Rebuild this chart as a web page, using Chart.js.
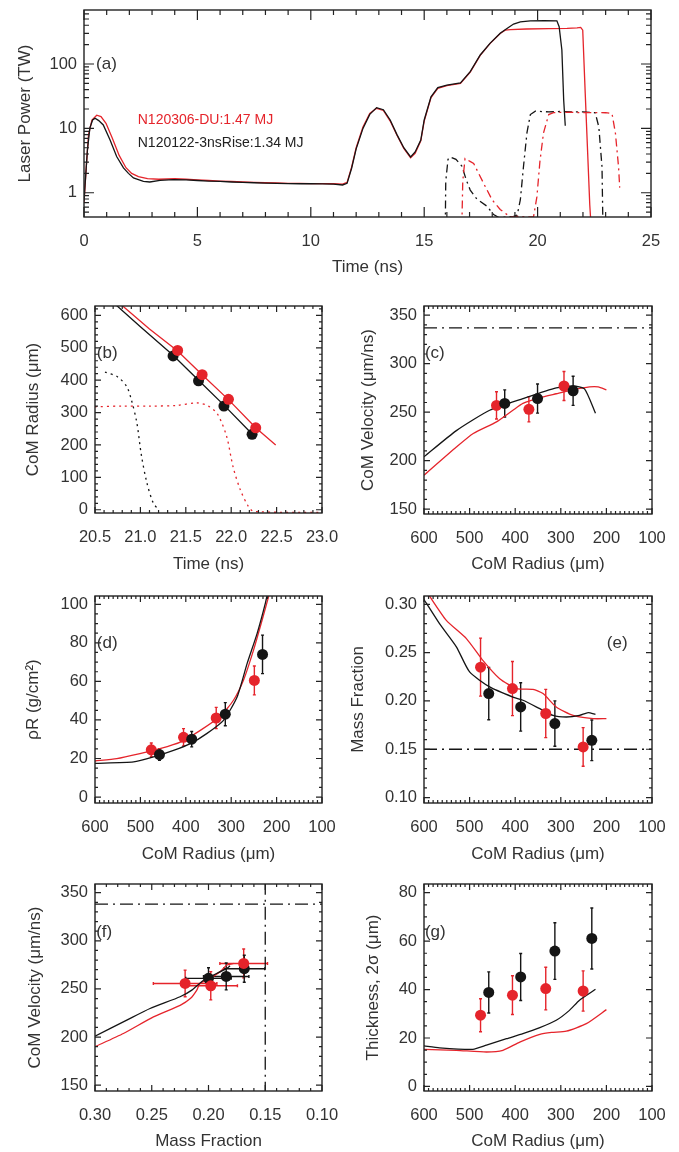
<!DOCTYPE html>
<html>
<head>
<meta charset="utf-8">
<script src="https://cdn.jsdelivr.net/npm/chart.js@4.4.0/dist/chart.umd.min.js"></script>
<style>
  html, body { margin: 0; padding: 0; background: #fff; }
  #fig { position: relative; width: 679px; height: 1152px; overflow: hidden; background: #fff; }
  #fig canvas { position: absolute; }
</style>
</head>
<body>
<div id="fig"></div>
<script>
// ---- (a) laser power vs time ----
const aTimeBlack = [0, 0.15, 0.26, 0.38, 0.49, 0.65, 0.85, 1.15, 1.44, 1.74, 1.96, 2.18, 2.62, 2.9, 3.35, 3.94, 4.5, 5.0, 5.5, 6.0, 6.5, 7.0, 7.5, 8.0, 8.5, 9.0, 9.5, 10.0, 10.5, 11.0, 11.4, 11.6, 11.8, 12.0, 12.3, 12.6, 12.9, 13.2, 13.5, 13.8, 14.1, 14.4, 14.6, 14.85, 15.0, 15.3, 15.6, 16.0, 16.6, 17.03, 17.47, 17.9, 18.35, 18.65, 18.94, 19.24, 19.68, 20.3, 20.85, 20.95, 21.07, 21.15, 21.22];
const aPowerBlack = [0.75, 4.6, 10.2, 13.5, 14.4, 13.2, 11.3, 6.6, 3.65, 2.43, 2.0, 1.7, 1.5, 1.47, 1.56, 1.6, 1.58, 1.55, 1.52, 1.5, 1.47, 1.45, 1.43, 1.41, 1.4, 1.39, 1.38, 1.38, 1.37, 1.36, 1.32, 1.4, 2.4, 4.8, 10, 16.5, 21, 19.5, 13.5, 8, 5, 3.6, 4.3, 6.6, 13.5, 31, 43, 47, 51, 76, 138, 209, 300, 357, 418, 452, 468, 470, 468, 380, 165, 27.6, 11];
const aTimeRed = [0, 0.1, 0.2, 0.35, 0.56, 0.75, 0.97, 1.25, 1.55, 1.85, 2.1, 2.4, 2.8, 3.3, 4.0, 4.5, 5.0, 5.5, 6.0, 6.5, 7.0, 7.5, 8.0, 8.5, 9.0, 9.5, 10.0, 10.5, 11.0, 11.4, 11.6, 11.8, 12.0, 12.3, 12.6, 12.9, 13.2, 13.5, 13.8, 14.1, 14.4, 14.6, 14.85, 15.0, 15.3, 15.6, 16.0, 16.6, 17.03, 17.47, 17.9, 18.35, 18.57, 18.8, 19.5, 20.5, 21.3, 21.74, 21.9, 21.99, 22.1, 22.2, 22.3, 22.36];
const aPowerRed = [0.7, 2.5, 8, 13.5, 16.0, 15.2, 12, 7, 3.8, 2.45, 2.0, 1.78, 1.66, 1.62, 1.65, 1.62, 1.58, 1.55, 1.52, 1.5, 1.47, 1.45, 1.43, 1.42, 1.4, 1.4, 1.39, 1.39, 1.38, 1.36, 1.45, 2.5, 5, 10.5, 17, 20.5, 19, 13, 7.8, 4.9, 3.5, 4.1, 6.4, 13, 30, 42, 46, 50, 75, 136, 207, 298, 335, 343, 350, 355, 358, 365, 370, 335, 35, 4.8, 0.65, 0.3];
const aTimeBlackDD = [15.93, 15.95, 16.05, 16.15, 16.4, 16.66, 16.85, 17.03, 17.32, 17.76, 18.06, 18.3, 18.6, 18.94, 19.1, 19.24, 19.38, 19.53, 19.68, 19.9, 20.5, 21.0, 21.5, 22.0, 22.54, 22.7, 22.84, 22.88];
const aPowerBlackDD = [0.3, 1.5, 3.3, 3.6, 3.3, 2.6, 1.6, 1.1, 0.8, 0.62, 0.46, 0.41, 0.42, 0.43, 0.45, 0.78, 2.6, 8.5, 16.4, 18.5, 18, 18.3, 18, 18, 17.5, 10.5, 2.5, 0.3];
const aTimeRedDD = [16.66, 16.7, 16.8, 17.0, 17.18, 17.4, 17.62, 17.99, 18.35, 18.8, 19.2, 19.5, 19.82, 19.97, 20.1, 20.26, 20.49, 20.7, 21.5, 22.0, 22.5, 23.0, 23.28, 23.43, 23.57, 23.62];
const aPowerRedDD = [0.3, 1.5, 3.4, 3.1, 2.86, 2.0, 1.4, 0.78, 0.55, 0.42, 0.43, 0.42, 0.42, 0.87, 3, 8.5, 16.4, 17.6, 17.8, 17.5, 17.6, 17.5, 17, 8.5, 2.5, 1.2];
const aLegend = ['N120306-DU:1.47 MJ', 'N120122-3nsRise:1.34 MJ'];

// ---- (b) CoM radius vs time ----
const bTimeBlack = [20.72, 21.0, 21.36, 21.64, 21.92, 22.23];
const bRadiusBlack = [635, 565, 477, 400, 323, 234];
const bTimeRed = [20.78, 21.1, 21.41, 21.68, 21.97, 22.27, 22.49];
const bRadiusRed = [635, 558, 490, 417, 340, 253, 200];
const bDotTimeBlack = [21.36, 21.64, 21.92, 22.23];
const bDotRadiusBlack = [475, 398, 320, 233];
const bDotTimeRed = [21.41, 21.68, 21.97, 22.27];
const bDotRadiusRed = [492, 417, 341, 253];
const bSigTimeBlack = [20.61, 20.75, 20.85, 20.9, 20.96, 21.01, 21.07, 21.14, 21.2];
const bSigBlack = [425, 410, 380, 340, 270, 170, 85, 22, 0];
const bSigTimeRed = [20.5, 20.8, 21.1, 21.4, 21.62, 21.75, 21.85, 21.95, 22.02, 22.1, 22.19, 22.25, 23.0];
const bSigRed = [318, 320, 320, 322, 330, 320, 295, 226, 133, 62, 10, -5, -8];

// ---- (c) CoM velocity vs radius ----
const cRadiusBlack = [600, 529, 456, 383, 310, 273, 248, 224];
const cVelBlack = [204, 231, 252, 264, 275, 277, 274, 249];
const cRadiusRed = [600, 529, 492, 441, 405, 383, 346, 310, 273, 237, 218, 200];
const cVelRed = [185, 214, 228, 240, 252, 259, 265, 269, 273, 276, 276, 273];
const cDotRadiusBlack = [423, 351, 273];
const cDotVelBlack = [259, 264, 272];
const cErrBlack = [14, 15, 15];
const cDotRadiusRed = [441, 370, 293];
const cDotVelRed = [257, 253, 277];
const cErrRed = [14, 13, 15];
const cVelLimit = 337;

// ---- (d) rhoR vs radius ----
const dRadiusBlack = [600, 515, 471, 427, 390, 354, 317, 287, 265, 243, 225, 218];
const dRhoRBlack = [17.5, 18.2, 20.8, 24.2, 27.7, 32.9, 39.8, 51.9, 69.2, 84.8, 100.3, 108];
const dRadiusRed = [600, 552, 501, 457, 412, 368, 324, 295, 273, 251, 232, 213];
const dRhoRRed = [18.7, 19.9, 22.5, 25.1, 28.5, 34.6, 41.9, 50.2, 60.6, 76.1, 91.7, 108];
const dDotRadiusBlack = [458, 387, 313, 231];
const dDotRhoRBlack = [22, 30, 43, 74];
const dErrBlack = [3, 4, 6, 10];
const dDotRadiusRed = [476, 405, 333, 249];
const dDotRhoRRed = [24.5, 31, 41, 60.5];
const dErrRed = [3.5, 4.5, 5.5, 7.5];

// ---- (e) mass fraction vs radius ----
const eRadiusBlack = [600, 566, 529, 500, 456, 405, 383, 346, 317, 288, 259, 240, 224];
const eMassBlack = [0.305, 0.280, 0.256, 0.230, 0.2145, 0.204, 0.2007, 0.192, 0.185, 0.1834, 0.185, 0.188, 0.186];
const eRadiusRed = [590, 551, 507, 471, 434, 397, 361, 339, 310, 273, 229, 200];
const eMassRed = [0.31, 0.2834, 0.2645, 0.242, 0.223, 0.2128, 0.212, 0.2076, 0.1938, 0.185, 0.1817, 0.1817];
const eDotRadiusBlack = [458, 388, 313, 232];
const eDotMassBlack = [0.2076, 0.1938, 0.1766, 0.1593];
const eErrBlack = [0.027, 0.025, 0.0235, 0.021];
const eDotRadiusRed = [476, 406, 333, 251];
const eDotMassRed = [0.235, 0.2128, 0.187, 0.1524];
const eErrRed = [0.03, 0.028, 0.025, 0.02];
const eMassLimit = 0.15;

// ---- (f) CoM velocity vs mass fraction ----
const fMassBlack = [0.30, 0.272, 0.2515, 0.225, 0.2147, 0.2044, 0.1956, 0.1838, 0.181];
const fVelBlack = [201, 217.6, 229.7, 241.9, 248.8, 259, 264.4, 271.3, 274];
const fMassRed = [0.30, 0.275, 0.2485, 0.225, 0.216, 0.2103, 0.2074, 0.2015, 0.1897, 0.1838, 0.178];
const fVelRed = [190, 203.7, 221, 233, 240, 248.8, 256, 259, 268, 274.8, 276.5];
const fDotMassBlack = [0.2, 0.1844, 0.1685];
const fDotVelBlack = [261, 263, 271];
const fMassErrBlack = [0.02, 0.02, 0.018];
const fVelErrBlack = [11, 14, 14];
const fDotMassRed = [0.2206, 0.198, 0.169];
const fDotVelRed = [255.7, 253.3, 276.5];
const fMassErrRed = [0.028, 0.0235, 0.021];
const fVelErrRed = [13.8, 14.7, 15];
const fVelLimit = 338;
const fMassLimit = 0.15;

// ---- (g) shell thickness vs radius ----
const gRadiusBlack = [600, 566, 493, 463, 419, 383, 346, 310, 281, 259, 224];
const gThickBlack = [16.7, 15.9, 15.3, 17, 19.7, 21.8, 24.3, 27.3, 31.4, 35.6, 40.1];
const gRadiusRed = [600, 529, 463, 427, 390, 346, 320, 288, 244, 200];
const gThickRed = [15.3, 14.9, 14.2, 14.9, 18.3, 21.5, 22.3, 22.8, 25.9, 31.7];
const gDotRadiusBlack = [458, 388, 313, 232];
const gDotThickBlack = [38.8, 45.2, 55.9, 61.1];
const gErrBlack = [8.5, 9.7, 11.7, 12.6];
const gDotRadiusRed = [476, 406, 333, 251];
const gDotThickRed = [29.4, 37.7, 40.4, 39.4];
const gErrRed = [6.8, 8, 8.8, 8.3];

// ---- tick labels ----
const radiusTicks = [600, 500, 400, 300, 200, 100];
const velTicks = [150, 200, 250, 300, 350];

const RED = '#e5242b';
const BLACK = '#151515';
const TXT = '#333333';
const FONT = '"Liberation Sans", Arial, Helvetica, sans-serif';
const TICK_SIZE = 16.5;
const TITLE_SIZE = 17;

function pts(xs, ys) { return xs.map((x, i) => ({ x: x, y: ys[i] })); }
function range(a, b, step) {
  const out = [];
  const n = Math.round((b - a) / step);
  for (let i = 0; i <= n; i++) out.push(+(a + i * step).toFixed(6));
  return out;
}
function logMinor(lo, hi) {
  const out = [];
  for (let e = Math.floor(Math.log10(lo)); e <= Math.ceil(Math.log10(hi)); e++)
    for (let k = 1; k < 10; k++) out.push(k * Math.pow(10, e));
  return out.filter(v => v >= lo && v <= hi);
}
function lineSet(xs, ys, color, dash, tension) {
  return { data: pts(xs, ys), borderColor: color, borderWidth: 1.3, borderDash: dash || [],
    pointRadius: 0, tension: tension || 0, fill: false, order: 2 };
}
function dotSet(xs, ys, color, yErr, xErr) {
  return { data: pts(xs, ys), showLine: false, pointRadius: 5.5, pointBackgroundColor: color,
    pointBorderWidth: 0, borderColor: color, yErr: yErr, xErr: xErr, order: 0 };
}
const DASHDOT = [13, 5, 2, 5];

// box with inward major/minor ticks on every side
const frameTicks = {
  id: 'frameTicks',
  afterDatasetsDraw(chart, args, o) {
    const { ctx, chartArea: a, scales } = chart;
    const sx = scales.x, sy = scales.y;
    ctx.save();
    ctx.strokeStyle = '#222';
    ctx.lineWidth = 1.2;
    ctx.beginPath();
    const onX = (vals, len) => vals.forEach(v => {
      const p = sx.getPixelForValue(v);
      if (p < a.left - 0.5 || p > a.right + 0.5) return;
      ctx.moveTo(p, a.bottom); ctx.lineTo(p, a.bottom - len);
      ctx.moveTo(p, a.top); ctx.lineTo(p, a.top + len);
    });
    const onY = (vals, len) => vals.forEach(v => {
      const p = sy.getPixelForValue(v);
      if (p < a.top - 0.5 || p > a.bottom + 0.5) return;
      ctx.moveTo(a.left, p); ctx.lineTo(a.left + len, p);
      ctx.moveTo(a.right, p); ctx.lineTo(a.right - len, p);
    });
    onX(o.xMajor, o.major); onX(o.xMinor, o.minor);
    onY(o.yMajor, o.major); onY(o.yMinor, o.minor);
    ctx.stroke();
    ctx.lineWidth = 1.4;
    ctx.strokeRect(a.left, a.top, a.right - a.left, a.bottom - a.top);
    ctx.restore();
  }
};

// error bars read from dataset.yErr / dataset.xErr
const errBars = {
  id: 'errBars',
  beforeDatasetsDraw(chart) {
    const { ctx, scales } = chart;
    const sx = scales.x, sy = scales.y;
    ctx.save();
    chart.data.datasets.forEach(ds => {
      if (!ds.yErr && !ds.xErr) return;
      ctx.strokeStyle = ds.borderColor;
      ctx.lineWidth = 1.4;
      ds.data.forEach((d, i) => {
        const px = sx.getPixelForValue(d.x), py = sy.getPixelForValue(d.y);
        ctx.beginPath();
        if (ds.yErr) {
          const y1 = sy.getPixelForValue(d.y - ds.yErr[i]), y2 = sy.getPixelForValue(d.y + ds.yErr[i]);
          ctx.moveTo(px, y1); ctx.lineTo(px, y2);
          ctx.moveTo(px - 1.5, y1); ctx.lineTo(px + 1.5, y1);
          ctx.moveTo(px - 1.5, y2); ctx.lineTo(px + 1.5, y2);
        }
        if (ds.xErr) {
          const x1 = sx.getPixelForValue(d.x - ds.xErr[i]), x2 = sx.getPixelForValue(d.x + ds.xErr[i]);
          ctx.moveTo(x1, py); ctx.lineTo(x2, py);
          ctx.moveTo(x1, py - 1.5); ctx.lineTo(x1, py + 1.5);
          ctx.moveTo(x2, py - 1.5); ctx.lineTo(x2, py + 1.5);
        }
        ctx.stroke();
      });
    });
    ctx.restore();
  }
};

// panel letters and the legend text of (a)
const notes = {
  id: 'notes',
  afterDraw(chart, args, o) {
    const { ctx, scales } = chart;
    ctx.save();
    (o.items || []).forEach(n => {
      ctx.font = n.size + 'px ' + FONT;
      ctx.fillStyle = n.color || TXT;
      ctx.textAlign = 'left';
      ctx.textBaseline = 'middle';
      ctx.fillText(n.text, scales.x.getPixelForValue(n.x), scales.y.getPixelForValue(n.y));
    });
    ctx.restore();
  }
};

function axis(spec, size, horizontal) {
  return {
    type: spec.type || 'linear',
    min: spec.min, max: spec.max, reverse: !!spec.reverse, bounds: 'data',
    afterBuildTicks: s => { s.ticks = spec.ticks.map(v => ({ value: v })); },
    afterFit: s => {
      if (horizontal) { s.height = size; s.paddingLeft = 0; s.paddingRight = 0; }
      else { s.width = size; s.paddingTop = 0; s.paddingBottom = 0; }
    },
    grid: { display: false, drawTicks: false },
    border: { display: false },
    ticks: {
      autoSkip: false, maxRotation: 0, minRotation: 0,
      padding: horizontal ? 15 : 7,
      color: TXT, font: { family: FONT, size: TICK_SIZE },
      callback: v => Number(v).toFixed(spec.dec)
    },
    title: { display: true, text: spec.title, color: TXT, padding: 0,
      font: { family: FONT, size: TITLE_SIZE } }
  };
}

function makePanel(p) {
  const lh = TITLE_SIZE * 1.2;
  const W = Math.round(p.frame.l - p.yTitleX + lh / 2);
  const H = Math.round(p.xTitleY - p.frame.b + lh / 2);
  const PT = 12, PR = 18;
  const left = p.frame.l - W, top = p.frame.t - PT;
  const width = p.frame.r + PR - left, height = p.frame.b + H - top;
  const cv = document.createElement('canvas');
  cv.width = width; cv.height = height;
  cv.style.left = left + 'px'; cv.style.top = top + 'px';
  cv.style.width = width + 'px'; cv.style.height = height + 'px';
  document.getElementById('fig').appendChild(cv);
  new Chart(cv.getContext('2d'), {
    type: 'line',
    data: { datasets: p.datasets },
    options: {
      responsive: false, animation: false, devicePixelRatio: 1, events: [],
      layout: { padding: { left: 0, top: PT, right: PR, bottom: 0 } },
      scales: { x: axis(p.x, H, true), y: axis(p.y, W, false) },
      plugins: {
        legend: { display: false }, tooltip: { enabled: false },
        frameTicks: { xMajor: p.x.ticks, xMinor: p.x.minor, yMajor: p.y.ticks, yMinor: p.y.minor,
          major: p.tick[0], minor: p.tick[1] },
        notes: { items: p.notes }
      }
    },
    plugins: [errBars, frameTicks, notes]
  });
}

// (a)
makePanel({
  frame: { l: 84, r: 651, t: 10, b: 217 }, yTitleX: 25, xTitleY: 268, tick: [10, 5],
  x: { min: 0, max: 25, ticks: [0, 5, 10, 15, 20, 25], minor: range(0, 25, 1), dec: 0, title: 'Time (ns)' },
  y: { type: 'logarithmic', min: 0.42, max: 690, ticks: [1, 10, 100], minor: logMinor(0.42, 690), dec: 0, title: 'Laser Power (TW)' },
  datasets: [
    lineSet(aTimeRedDD, aPowerRedDD, RED, [8, 4, 2, 4]),
    lineSet(aTimeBlackDD, aPowerBlackDD, BLACK, [8, 4, 2, 4]),
    lineSet(aTimeBlack, aPowerBlack, BLACK),
    lineSet(aTimeRed, aPowerRed, RED)
  ],
  notes: [
    { text: '(a)', x: 0.53, y: 100, size: 17 },
    { text: aLegend[0], x: 2.37, y: 13.5, size: 14, color: RED },
    { text: aLegend[1], x: 2.37, y: 6.0, size: 14, color: '#222' }
  ]
});

// (b)
makePanel({
  frame: { l: 95, r: 322, t: 306, b: 513 }, yTitleX: 33, xTitleY: 565, tick: [6, 3],
  x: { min: 20.5, max: 23.0, ticks: range(20.5, 23.0, 0.5), minor: range(20.5, 23.0, 0.1), dec: 1, title: 'Time (ns)' },
  y: { min: -10, max: 629, ticks: range(0, 600, 100), minor: range(0, 620, 20), dec: 0, title: 'CoM Radius (μm)' },
  datasets: [
    dotSet(bDotTimeRed, bDotRadiusRed, RED),
    dotSet(bDotTimeBlack, bDotRadiusBlack, BLACK),
    lineSet(bTimeRed, bRadiusRed, RED),
    lineSet(bTimeBlack, bRadiusBlack, BLACK),
    lineSet(bSigTimeRed, bSigRed, RED, [2, 4], 0.3),
    lineSet(bSigTimeBlack, bSigBlack, BLACK, [2, 4], 0.3)
  ],
  notes: [{ text: '(b)', x: 20.52, y: 483, size: 17 }]
});

// (c)
makePanel({
  frame: { l: 424, r: 652, t: 306, b: 514 }, yTitleX: 368, xTitleY: 565, tick: [6, 3],
  x: { min: 100, max: 600, reverse: true, ticks: radiusTicks, minor: range(100, 600, 10), dec: 0, title: 'CoM Radius (μm)' },
  y: { min: 145, max: 359.5, ticks: velTicks, minor: range(150, 350, 10), dec: 0, title: 'CoM Velocity (μm/ns)' },
  datasets: [
    dotSet(cDotRadiusBlack, cDotVelBlack, BLACK, cErrBlack),
    dotSet(cDotRadiusRed, cDotVelRed, RED, cErrRed),
    lineSet(cRadiusBlack, cVelBlack, BLACK, [], 0.2),
    lineSet(cRadiusRed, cVelRed, RED, [], 0.2),
    lineSet([600, 100], [cVelLimit, cVelLimit], BLACK, DASHDOT)
  ],
  notes: [{ text: '(c)', x: 598, y: 311, size: 17 }]
});

// (d)
makePanel({
  frame: { l: 95, r: 322, t: 596, b: 803 }, yTitleX: 33, xTitleY: 855, tick: [6, 3],
  x: { min: 100, max: 600, reverse: true, ticks: radiusTicks, minor: range(100, 600, 10), dec: 0, title: 'CoM Radius (μm)' },
  y: { min: -3.1, max: 104.3, ticks: range(0, 100, 20), minor: range(0, 100, 5), dec: 0, title: 'ρR (g/cm²)' },
  datasets: [
    dotSet(dDotRadiusBlack, dDotRhoRBlack, BLACK, dErrBlack),
    dotSet(dDotRadiusRed, dDotRhoRRed, RED, dErrRed),
    lineSet(dRadiusBlack, dRhoRBlack, BLACK, [], 0.2),
    lineSet(dRadiusRed, dRhoRRed, RED, [], 0.2)
  ],
  notes: [{ text: '(d)', x: 596, y: 80, size: 17 }]
});

// (e)
makePanel({
  frame: { l: 424, r: 652, t: 596, b: 803 }, yTitleX: 358, xTitleY: 855, tick: [6, 3],
  x: { min: 100, max: 600, reverse: true, ticks: radiusTicks, minor: range(100, 600, 10), dec: 0, title: 'CoM Radius (μm)' },
  y: { min: 0.0944, max: 0.3086, ticks: range(0.10, 0.30, 0.05), minor: range(0.10, 0.30, 0.01), dec: 2, title: 'Mass Fraction' },
  datasets: [
    dotSet(eDotRadiusRed, eDotMassRed, RED, eErrRed),
    dotSet(eDotRadiusBlack, eDotMassBlack, BLACK, eErrBlack),
    lineSet(eRadiusBlack, eMassBlack, BLACK, [], 0.2),
    lineSet(eRadiusRed, eMassRed, RED, [], 0.2),
    lineSet([600, 100], [eMassLimit, eMassLimit], BLACK, DASHDOT)
  ],
  notes: [{ text: '(e)', x: 199, y: 0.26, size: 17 }]
});

// (f)
makePanel({
  frame: { l: 95, r: 322, t: 884, b: 1091 }, yTitleX: 35, xTitleY: 1142, tick: [6, 3],
  x: { min: 0.10, max: 0.30, reverse: true, ticks: range(0.10, 0.30, 0.05), minor: range(0.10, 0.30, 0.01), dec: 2, title: 'Mass Fraction' },
  y: { min: 144, max: 359, ticks: velTicks, minor: range(150, 350, 10), dec: 0, title: 'CoM Velocity (μm/ns)' },
  datasets: [
    dotSet(fDotMassRed, fDotVelRed, RED, fVelErrRed, fMassErrRed),
    dotSet(fDotMassBlack, fDotVelBlack, BLACK, fVelErrBlack, fMassErrBlack),
    lineSet(fMassBlack, fVelBlack, BLACK, [], 0.2),
    lineSet(fMassRed, fVelRed, RED, [], 0.2),
    lineSet([0.30, 0.10], [fVelLimit, fVelLimit], BLACK, DASHDOT),
    lineSet([fMassLimit, fMassLimit], [140, 365], BLACK, DASHDOT)
  ],
  notes: [{ text: '(f)', x: 0.299, y: 309, size: 17 }]
});

// (g)
makePanel({
  frame: { l: 424, r: 652, t: 884, b: 1091 }, yTitleX: 373, xTitleY: 1142, tick: [6, 3],
  x: { min: 100, max: 600, reverse: true, ticks: radiusTicks, minor: range(100, 600, 10), dec: 0, title: 'CoM Radius (μm)' },
  y: { min: -1.9, max: 83.6, ticks: range(0, 80, 20), minor: range(0, 80, 5), dec: 0, title: 'Thickness, 2σ (μm)' },
  datasets: [
    dotSet(gDotRadiusBlack, gDotThickBlack, BLACK, gErrBlack),
    dotSet(gDotRadiusRed, gDotThickRed, RED, gErrRed),
    lineSet(gRadiusBlack, gThickBlack, BLACK, [], 0.2),
    lineSet(gRadiusRed, gThickRed, RED, [], 0.2)
  ],
  notes: [{ text: '(g)', x: 598, y: 63.7, size: 17 }]
});
</script>
</body>
</html>
